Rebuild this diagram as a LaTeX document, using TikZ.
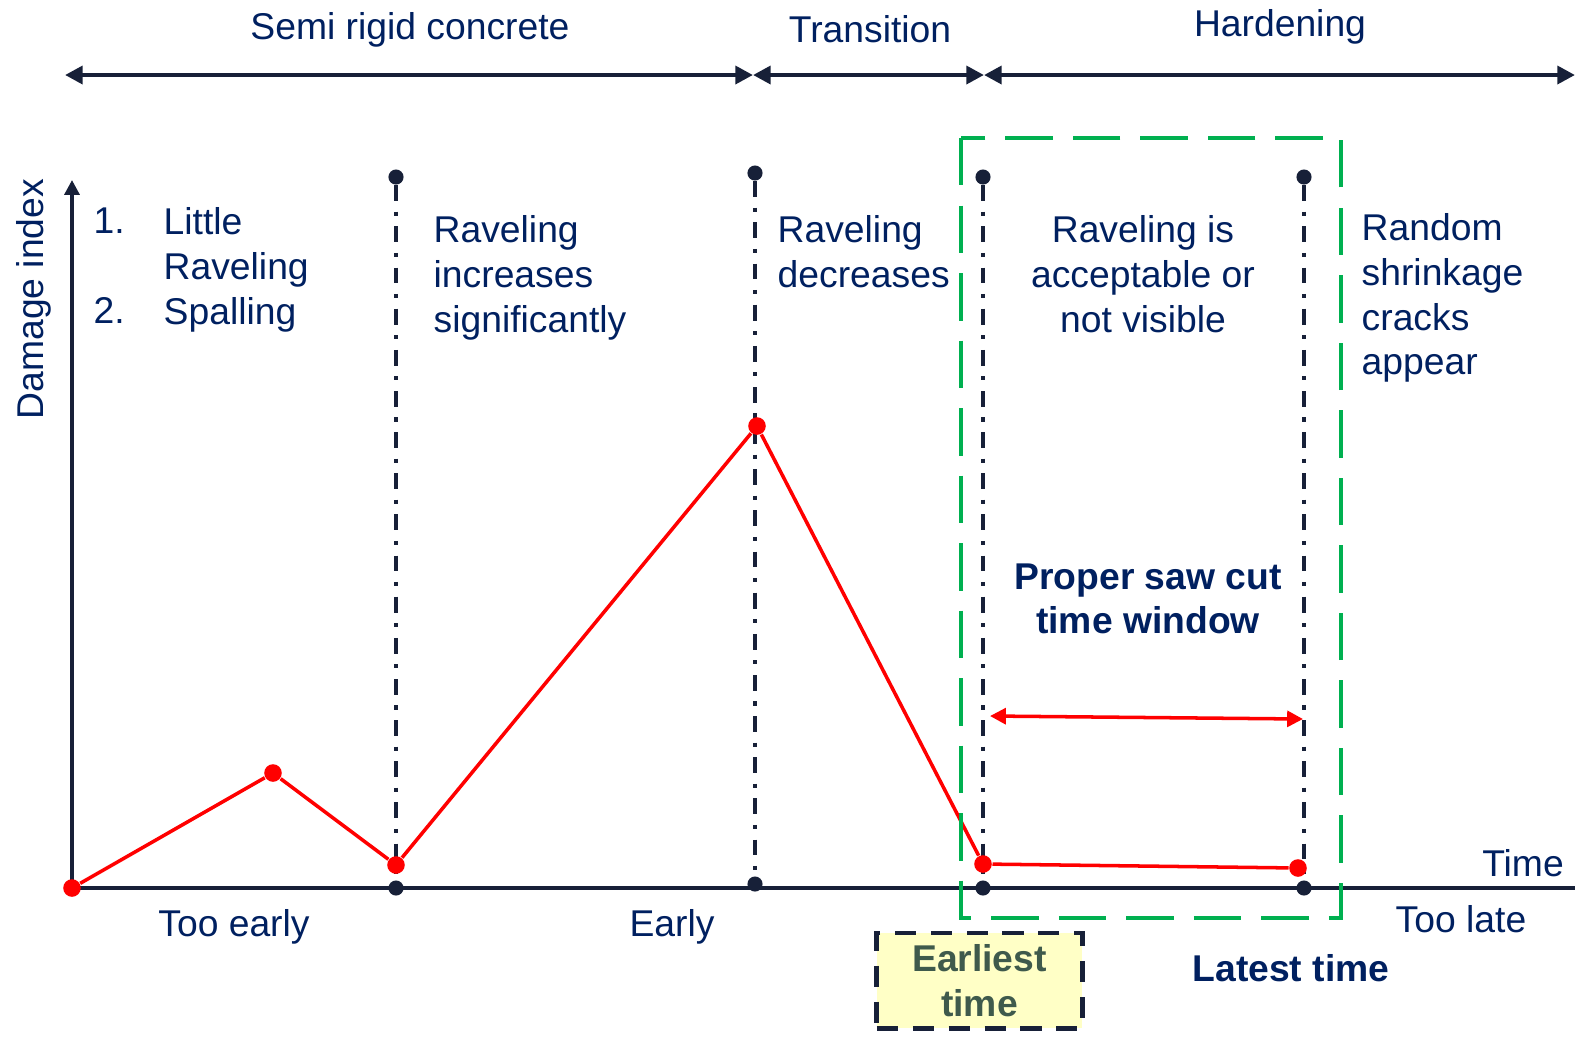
\documentclass[tikz,border=0pt]{standalone}
\usepackage{fontspec}
\setmainfont{Liberation Sans}
\usetikzlibrary{arrows.meta}
\definecolor{navy}{HTML}{002060}
\definecolor{ink}{HTML}{172038}
\definecolor{grn}{HTML}{00B050}
\definecolor{pale}{HTML}{FFFFC6}
\definecolor{sage}{HTML}{3F5A4C}
\tikzset{
 lbl/.style={text=navy,font=\fontsize{10.6}{12.7}\selectfont,inner sep=0pt,align=left},
 bld/.style={lbl,font=\fontsize{10.6}{12.6}\selectfont\bfseries,align=center},
 dotb/.style={circle,fill=ink,inner sep=0pt,minimum size=4.3pt},
 dotr/.style={circle,fill=red,inner sep=0pt,minimum size=5pt},
 dashdot/.style={ink,line width=1.1pt,dash pattern=on 4.5pt off 3pt on 1.2pt off 3pt},
 phase/.style={ink,line width=1.4pt,{Triangle[length=5pt,width=5pt]}-{Triangle[length=5pt,width=5pt]}},
}
\begin{document}
\begin{tikzpicture}[x=0.01cm,y=-0.01cm]
\useasboundingbox (0,0) rectangle (1575,1038);
%phases
\coordinate(t0)at(65,75);\coordinate(t1)at(753,75);\coordinate(t2)at(984,75);\coordinate(t3)at(1575,75);
\draw[phase](t0)--(t1);
\draw[phase](t1)--(t2);
\draw[phase](t2)--(t3);
\node[lbl,anchor=north](semi)at(410,12){Semi rigid concrete};
\node[lbl,anchor=north](trans)at(870,15){Transition};
\node[lbl,anchor=north](hard)at(1280,9){Hardening};
%axes
\coordinate(o)at(72,888);\coordinate(ytop)at(72,180);\coordinate(xend)at(1575,888);
\draw[ink,line width=1pt,-{Triangle[length=4.2pt,width=4.2pt]}](o)--(ytop);
\draw[ink,line width=1pt](o)--(xend);
\node[lbl,rotate=90](dmg)at(34,299){Damage index};
\node[lbl,anchor=north](time)at(1523,849){Time};
\node[lbl,anchor=north](tooearly)at(234,909){Too early};
\node[lbl,anchor=north](early)at(672,909){Early};
\node[lbl,anchor=north](toolate)at(1461,905){Too late};
%limits
\foreach \n/\x/\t/\b in {1/396/177/888,2/755/173/884,3/983/177/888,4/1304/177/888}{
 \node[dotb](a\n)at(\x,\t){};
 \node[dotb](b\n)at(\x,\b){};
 \draw[dashdot](a\n)--(b\n);
}
%texts
\node[lbl,anchor=north west](n1)at(93,207){1.};
\node[lbl,anchor=north west](little)at(163,207){Little\\Raveling};
\node[lbl,anchor=north west](n2)at(93,297){2.};
\node[lbl,anchor=north west](spal)at(163,297){Spalling};
\node[lbl,anchor=north west](incr)at(433,215){Raveling\\increases\\significantly};
\node[lbl,anchor=north west](decr)at(777,215){Raveling\\decreases};
\node[lbl,anchor=north,align=center](accept)at(1143,215){Raveling is\\acceptable or\\not visible};
\node[lbl,anchor=north west](random)at(1361,213){Random\\shrinkage\\cracks\\appear};
\node[bld,text=navy,anchor=north](proper)at(1148,563){Proper saw cut\\time window};
%function
\foreach \n/\x/\y in {0/72/888,1/273/773,2/396/865,3/757/426,4/983/864,5/1298/868}
 \node[dotr](p\n)at(\x,\y){};
\draw[red,line width=1pt](p0)--(p1)--(p2)--(p3)--(p4)--(p5);
\coordinate(w1)at(990,716);\coordinate(w2)at(1303,719);
\draw[red,line width=1pt,{Triangle[length=4.5pt,width=4.5pt]}-{Triangle[length=4.5pt,width=4.5pt]}](w1)--(w2);
%window
\draw[grn,line width=1.4pt,dash pattern=on 13.5pt off 5.7pt](961,138)rectangle(1341,918);
\node[bld,text=sage,draw=ink,line width=1.4pt,dash pattern=on 6pt off 4.2pt,fill=pale,
 minimum width=2.05cm,minimum height=0.95cm](earliest)at(979.5,980.5){Earliest\\time};
\node[bld,anchor=north](latest)at(1291,954){Latest time};
\end{tikzpicture}
\end{document}
